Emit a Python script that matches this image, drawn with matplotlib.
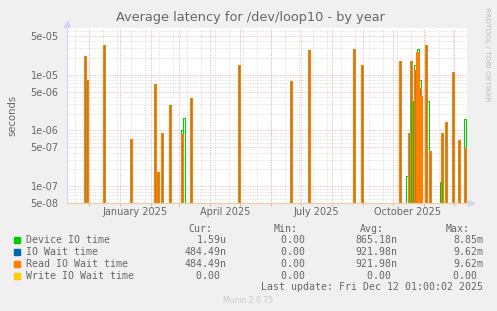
import numpy as np
import matplotlib
matplotlib.use("Agg")
import matplotlib.pyplot as plt
import matplotlib.dates as mdates

W, H = 497, 311

# spikes (date, seconds)
device_dates = ["2024-11-27", "2024-11-29", "2024-12-16", "2025-01-12", "2025-02-05",
                "2025-02-08", "2025-02-20", "2025-03-04", "2025-03-06", "2025-03-13",
                "2025-04-30", "2025-06-21", "2025-07-09", "2025-08-23", "2025-08-31",
                "2025-10-08", "2025-10-15", "2025-10-19", "2025-10-20", "2025-10-23",
                "2025-10-25", "2025-10-26", "2025-10-28", "2025-10-29", "2025-11-03",
                "2025-11-05", "2025-11-18", "2025-11-19", "2025-11-23", "2025-11-30",
                "2025-12-06", "2025-12-12"]
device_vals = [2.1e-5, 7.5e-6, 3.3e-5, 6.8e-7, 6.7e-6,
               1.5e-7, 2.9e-6, 1.0e-6, 1.7e-6, 3.6e-6,
               1.4e-5, 7.4e-6, 2.7e-5, 2.8e-5, 1.5e-5,
               1.7e-5, 1.5e-7, 1.7e-5, 3.4e-6, 1.5e-5,
               2.4e-5, 2.9e-5, 7.9e-6, 4.0e-6, 3.3e-5,
               3.4e-6, 1.2e-7, 8.0e-7, 1.4e-6, 1.1e-5,
               6.5e-7, 1.59e-6]

read_dates = ["2024-11-27", "2024-11-29", "2024-12-16", "2025-01-12", "2025-02-05",
              "2025-02-08", "2025-02-12", "2025-02-20", "2025-03-04", "2025-03-13",
              "2025-04-30", "2025-06-21", "2025-07-09", "2025-08-23", "2025-08-31",
              "2025-10-08", "2025-10-17", "2025-10-19", "2025-10-23", "2025-10-25",
              "2025-10-26", "2025-10-28", "2025-10-29", "2025-11-03", "2025-11-07",
              "2025-11-19", "2025-11-23", "2025-11-30", "2025-12-06", "2025-12-12"]
read_vals = [2.14e-5, 7.9e-6, 3.37e-5, 7.0e-7, 6.9e-6,
             1.8e-7, 8.9e-7, 2.8e-6, 8.6e-7, 3.8e-6,
             1.47e-5, 7.6e-6, 2.74e-5, 2.86e-5, 1.47e-5,
             1.74e-5, 8.9e-7, 1.74e-5, 1.2e-5, 2.55e-5,
             2.6e-5, 5.9e-6, 4.2e-6, 3.37e-5, 4.2e-7,
             8.9e-7, 1.44e-6, 1.1e-5, 6.8e-7, 4.8e-7]

yticks = [5e-8, 1e-7, 5e-7, 1e-6, 5e-6, 1e-5, 5e-5]
month_labels = ["January 2025", "April 2025", "July 2025", "October 2025"]
month_label_dates = ["2025-01-16", "2025-04-16", "2025-07-16", "2025-10-16"]

legend_names = ["Device IO time", "IO Wait time", "Read IO Wait time", "Write IO Wait time"]
legend_colors = ["#00CC00", "#0066B3", "#FF8000", "#FFCC00"]
cur_vals = ["1.59u", "484.49n", "484.49n", "0.00 "]
min_vals = ["0.00 ", "0.00 ", "0.00 ", "0.00 "]
avg_vals = ["865.18n", "921.98n", "921.98n", "0.00 "]
max_vals = ["8.85m", "9.62m", "9.62m", "0.00 "]

FONT = "#666666"
x_start = np.datetime64("2024-11-09")
x_end = np.datetime64("2025-12-14")


def dnum(s):
    return mdates.date2num(np.datetime64(s))


def spikes(dates, vals, half=0.6, floor=1e-10):
    xs, ys = [], []
    for d, v in zip(dates, vals):
        x = dnum(d)
        xs += [x - half, x - half, x + half, x + half]
        ys += [floor, v, v, floor]
    return xs, ys


fig = plt.figure(figsize=(W / 100, H / 100), dpi=100, facecolor="#F0F0F0")
ax = fig.add_axes([67 / W, 1 - 203 / H, 400 / W, 175 / H])
ax.set_facecolor("white")
ax.set_yscale("log")
ax.set_ylim(5e-8, 6.9e-5)
ax.set_xlim(dnum(x_start), dnum(x_end))

# grid: grey minor, red at 1 and 5 and at month starts
MINOR, MAJOR = "#DCDCDC", "#EDB4B4"
for dec in range(-8, -4):
    for m in range(1, 10):
        v = m * 10.0 ** dec
        if v < 5e-8 or v > 6.9e-5:
            continue
        major = m in (1, 5)
        ax.axhline(v, color=MAJOR if major else MINOR, lw=0.6,
                   dashes=(1.5, 1.5), zorder=0.5 if major else 0)
sundays = np.arange(np.datetime64("2024-11-17"), x_end, np.timedelta64(14, "D"))
for d in sundays:
    ax.axvline(mdates.date2num(d), color=MINOR, lw=0.6, dashes=(1.5, 1.5), zorder=0)
months = np.arange(np.datetime64("2024-12"), np.datetime64("2026-01"), np.timedelta64(1, "M"))
month_nums = [mdates.date2num(m.astype("datetime64[D]")) for m in months]
for x in month_nums:
    ax.axvline(x, color=MAJOR, lw=0.6, dashes=(1.5, 1.5), zorder=0.5)

# data
rx, ry = spikes(read_dates, read_vals)
ax.fill(rx, ry, color="#A8893E", lw=0, zorder=1)
gx, gy = spikes(device_dates, device_vals)
ax.plot(gx, gy, color="#00CC00", lw=0.75, zorder=2)
ax.plot(rx, ry, color="#0066B3", lw=0.75, zorder=2.5)
ax.plot(rx, ry, color="#FF8000", lw=0.75, zorder=3)

# axes
for s in ("top", "right"):
    ax.spines[s].set_visible(False)
ax.spines["left"].set_color("#CFD6F8")
ax.spines["bottom"].set_color("#E8D3A6")
ax.spines["left"].set_linewidth(0.8)
ax.spines["bottom"].set_linewidth(1.0)
ax.plot([0], [1.0 + 4 / 175], marker="^", ms=4.5, color="#CFD6F8",
        transform=ax.transAxes, clip_on=False)
ax.plot([1.0 + 4 / 400], [0], marker=">", ms=4.5, color="#CFD6F8",
        transform=ax.transAxes, clip_on=False)

ax.set_yticks(yticks)
ax.set_yticklabels(["%.0e" % v for v in yticks])
ax.yaxis.set_minor_locator(matplotlib.ticker.NullLocator())
ax.tick_params(axis="y", length=0, labelsize=7, labelcolor=FONT, pad=6)
ax.set_xticks(month_nums)
ax.set_xticklabels([])
ax.tick_params(axis="x", length=2, color="#BBBBBB", width=0.6)
for lab, d in zip(month_labels, month_label_dates):
    ax.text(dnum(d), -9 / 175, lab, transform=ax.get_xaxis_transform(),
            ha="center", va="center", fontsize=7, color=FONT)

fig.text(12 / W, 1 - 115 / H, "seconds", rotation=90, ha="center", va="center",
         fontsize=7.3, color=FONT)
fig.text(250 / W, 1 - 18 / H, "Average latency for /dev/loop10 - by year",
         ha="center", va="center", fontsize=9.3, color=FONT)
fig.text(487 / W, 1 - 54 / H, "RRDTOOL / TOBI OETIKER", rotation=270,
         ha="center", va="center", fontsize=5.3, color="#BBBBBB")

# legend
mono = dict(family="DejaVu Sans Mono", fontsize=7.15, color=FONT, va="center")
for hx, htxt in zip([212, 298, 384, 470], ["Cur:", "Min:", "Avg:", "Max:"]):
    fig.text(hx / W, 1 - 228.5 / H, htxt, ha="right", **mono)
for i, name in enumerate(legend_names):
    y = 240 + 12 * i
    fig.patches.append(plt.Rectangle((14 / W, 1 - (y + 3) / H), 6 / W, 6 / H,
                                     color=legend_colors[i], transform=fig.transFigure))
    fig.text(26 / W, 1 - y / H, name, ha="left", **mono)
    for cx, col in zip([226.5, 311, 397, 483], [cur_vals, min_vals, avg_vals, max_vals]):
        fig.text(cx / W, 1 - y / H, col[i], ha="right", **mono)
fig.text(483 / W, 1 - 287.5 / H, "Last update: Fri Dec 12 01:00:02 2025", ha="right", **mono)
fig.text(248 / W, 1 - 300.5 / H, "Munin 2.0.75", ha="center", va="center",
         fontsize=5.5, color="#C8C8C8")

fig.savefig("out.png", dpi=100, facecolor=fig.get_facecolor())
